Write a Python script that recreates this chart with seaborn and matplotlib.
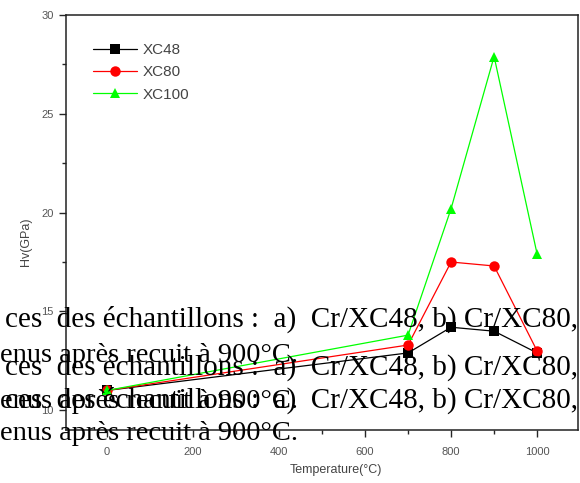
import matplotlib
matplotlib.use("Agg")
import matplotlib.pyplot as plt
import seaborn as sns
import pandas as pd
from matplotlib.ticker import MultipleLocator

# values
temperatures = [0, 700, 800, 900, 1000]
hv_xc48 = [11.0, 12.9, 14.2, 14.0, 12.9]
hv_xc80 = [11.0, 13.3, 17.5, 17.3, 13.0]
hv_xc100 = [11.0, 13.8, 20.2, 27.9, 17.9]
series_names = ["XC48", "XC80", "XC100"]
series_colors = ["black", "#ff0000", "#00ff00"]
series_markers = ["s", "o", "^"]

# caption text of the scanned page overlapping the chart
caption_first = "ces  des échantillons :  a)  Cr/XC48, b) Cr/XC80,"
caption_second = "enus après recuit à 900°C."

df = pd.DataFrame({
    "Temperature": temperatures * 3,
    "Hv": hv_xc48 + hv_xc80 + hv_xc100,
    "sample": [n for n in series_names for _ in temperatures],
})

sns.set_style("ticks")
plt.rcParams["font.family"] = ["Liberation Sans", "DejaVu Sans"]

fig = plt.figure(figsize=(5.8, 4.83), dpi=100)
ax = fig.add_axes([66 / 580, 1 - 430 / 483, 512 / 580, 415 / 483])

sns.lineplot(data=df, x="Temperature", y="Hv", hue="sample", style="sample",
             hue_order=series_names, style_order=series_names,
             palette=dict(zip(series_names, series_colors)),
             markers=dict(zip(series_names, series_markers)),
             dashes=False, markersize=7.5, linewidth=0.9,
             markeredgewidth=0, ax=ax)

ax.set_xlim(-95, 1095)
ax.set_ylim(9, 30)
ax.xaxis.set_major_locator(MultipleLocator(200))
ax.xaxis.set_minor_locator(MultipleLocator(100))
ax.yaxis.set_major_locator(MultipleLocator(5))
ax.yaxis.set_minor_locator(MultipleLocator(2.5))
ax.tick_params(which="major", length=5, width=1, labelsize=8, labelcolor="#555555", pad=4)
ax.tick_params(axis="x", which="major", pad=7)
ax.tick_params(which="minor", length=3, width=1)
for s in ax.spines.values():
    s.set_visible(True)
    s.set_linewidth(1.1)
    s.set_color("#222222")

ax.set_xlabel("Temperature(°C)", fontsize=9, color="#444444")
ax.set_ylabel("Hv(GPa)", fontsize=9, color="#444444")
ax.xaxis.set_label_coords(0.527, -0.082)
ax.yaxis.set_label_coords(-0.066, 0.453)

leg = ax.legend(frameon=False, loc="upper left", bbox_to_anchor=(0.025, 0.966),
                fontsize=11, handlelength=2.9, handletextpad=0.35, labelspacing=0.55)
for t in leg.get_texts():
    t.set_color("#444444")

# overlapping caption lines
for y in [327, 375, 408]:
    fig.text(578 / 580, 1 - y / 483, caption_first, ha="right", va="baseline",
             fontsize=21, family="Liberation Serif", color="black")
for y in [362, 408, 440]:
    fig.text(0.0, 1 - y / 483, caption_second, ha="left", va="baseline",
             fontsize=20.5, family="Liberation Serif", color="black")

fig.savefig("out.png", dpi=100)
